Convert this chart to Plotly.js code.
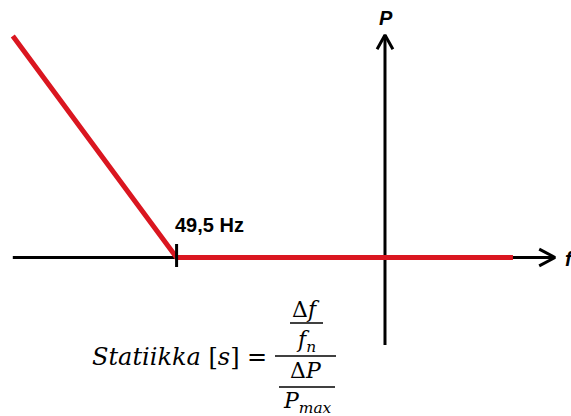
<!DOCTYPE html>
<html>
<head>
<meta charset="utf-8">
<script src="https://cdn.plot.ly/plotly-3.0.1.min.js"></script>
<style>html,body{margin:0;padding:0;background:#fff;}#chart{width:571px;height:416px;}</style>
</head>
<body>
<div id="chart"></div>
<script>
// Droop characteristic (frequency in Hz, power in per-unit of Pmax)
var droopFreq  = [49.107, 49.5, 50.307];
var droopPower = [1.0, 0.0, 0.0];

// Axes of the sketch
var fAxisFreq  = [49.107, 50.408];
var fAxisPower = [0, 0];
var pAxisFreq  = [50.0, 50.0];
var pAxisPower = [-0.395, 1.0045];

// Marked frequency
var tickFreq = 49.5;
var tickLabel = "49,5 Hz";

var W = 571, H = 416;
var xRange = [49.0763, 50.4463];
var yRange = [-0.7156, 1.1625];

function xp(px) { return px / W; }
function yp(py) { return 1 - py / H; }

var red = "rgb(218,22,32)";
var black = "#000";

var traces = [
  {x: fAxisFreq, y: fAxisPower, mode: "lines", line: {color: black, width: 3}, hoverinfo: "skip"},
  {x: pAxisFreq, y: pAxisPower, mode: "lines", line: {color: black, width: 3}, hoverinfo: "skip"},
  // arrowhead on f axis
  {x: [fAxisFreq[1] - 0.038, fAxisFreq[1], fAxisFreq[1] - 0.038],
   y: [0.038, 0, -0.038], mode: "lines", line: {color: black, width: 3}, hoverinfo: "skip"},
  // arrowhead on P axis
  {x: [49.981, 50.0, 50.019],
   y: [pAxisPower[1] - 0.064, pAxisPower[1], pAxisPower[1] - 0.064], mode: "lines",
   line: {color: black, width: 3}, hoverinfo: "skip"},
  // droop curve
  {x: droopFreq, y: droopPower, mode: "lines", line: {color: red, width: 5}, hoverinfo: "skip"},
  // tick at 49.5 Hz
  {x: [tickFreq, tickFreq], y: [0.061, -0.043], mode: "lines", line: {color: black, width: 3}, hoverinfo: "skip"}
];

var sans = "Liberation Sans, Arial, sans-serif";
var serif = "DejaVu Serif, serif";

function ann(text, x, y, xanchor, font) {
  return {text: text, xref: "paper", yref: "paper", x: xp(x), y: yp(y),
          xanchor: xanchor, yanchor: "middle", showarrow: false, font: font};
}

var annotations = [
  ann("P", 386, 17.5, "center", {family: sans, size: 20, color: black, weight: 700, style: "italic"}),
  ann(tickLabel, 209.5, 225, "center", {family: sans, size: 20, color: black, weight: 700}),
  ann("f", 563, 258.5, "left", {family: sans, size: 20, color: black, weight: 700, style: "italic"}),
  ann("<i>Statiikka</i> [<i>s</i>] =", 269, 357, "right", {family: serif, size: 24, color: black}),
  ann("Δ<i>f</i>", 306, 309, "center", {family: serif, size: 22, color: black}),
  ann("<i>f</i><sub><i>n</i></sub>", 306, 341, "center", {family: serif, size: 22, color: black}),
  ann("Δ<i>P</i>", 306, 370, "center", {family: serif, size: 22, color: black}),
  ann("<i>P</i><sub><i>max</i></sub>", 307, 402, "center", {family: serif, size: 22, color: black})
];

function hline(x0, x1, y) {
  return {type: "line", xref: "paper", yref: "paper", x0: xp(x0), x1: xp(x1), y0: yp(y), y1: yp(y),
          line: {color: black, width: 1.5}};
}
var shapes = [hline(290, 323, 323), hline(275, 336, 356), hline(279, 335, 387)];

var layout = {
  width: W, height: H,
  margin: {l: 0, r: 0, t: 0, b: 0, pad: 0},
  paper_bgcolor: "#fff", plot_bgcolor: "#fff",
  showlegend: false,
  xaxis: {visible: false, range: xRange, fixedrange: true},
  yaxis: {visible: false, range: yRange, fixedrange: true},
  annotations: annotations,
  shapes: shapes
};

Plotly.newPlot("chart", traces, layout, {displayModeBar: false, staticPlot: true});
</script>
</body>
</html>
